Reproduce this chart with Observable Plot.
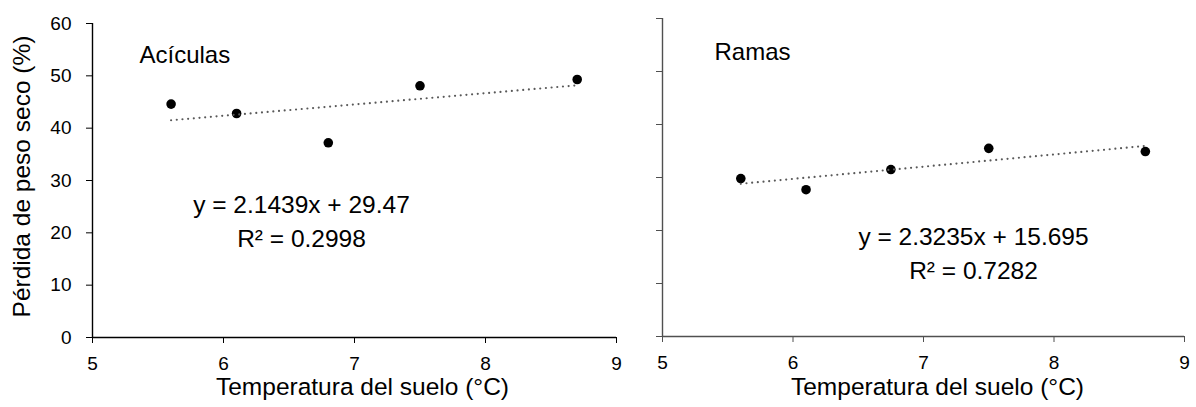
<!DOCTYPE html>
<html>
<head>
<meta charset="utf-8">
<script src="https://cdn.jsdelivr.net/npm/d3@7"></script>
<script src="https://cdn.jsdelivr.net/npm/@observablehq/plot@0.6"></script>
<style>
  body { margin: 0; background: #fff; }
  #wrap { position: relative; width: 1196px; height: 407px; overflow: hidden; background: #fff; }
  .panel { position: absolute; top: 0; }
  g[aria-label="x-axis tick label"], g[aria-label="y-axis tick label"] { font-size: 19px !important; }
</style>
</head>
<body>
<div id="wrap">
  <div id="left" class="panel" style="left:0px"></div>
  <div id="right" class="panel" style="left:640px"></div>
</div>
<script>
// ---- data ----
const xTicks = [5, 6, 7, 8, 9];
const yTicks = [0, 10, 20, 30, 40, 50, 60];

const leftTitle = "Acículas";
const leftTemp = [5.6, 6.1, 6.8, 7.5, 8.7];
const leftLoss = [44.6, 42.8, 37.2, 48.1, 49.3];
const leftEq = ["y = 2.1439x + 29.47", "R² = 0.2998"];

const rightTitle = "Ramas";
const rightTemp = [5.6, 6.1, 6.75, 7.5, 8.7];
const rightLoss = [29.8, 27.7, 31.5, 35.5, 34.9];
const rightEq = ["y = 2.3235x + 15.695", "R² = 0.7282"];

const xLabel = "Temperatura del suelo (°C)";
const yLabel = "Pérdida de peso seco (%)";

const FONT = "'Liberation Sans', Arial, Helvetica, sans-serif";

function panel(opts) {
  const data = opts.temp.map((t, i) => ({t, v: opts.loss[i]}));
  const axisColor = opts.axisColor;
  const marks = [
    Plot.ruleY([yTicks[0]], {stroke: axisColor, strokeWidth: 1.4}),
    Plot.ruleX([xTicks[0]], {stroke: axisColor, strokeWidth: 1.4}),
    Plot.axisX({ticks: xTicks, tickSize: 6, tickPadding: 13, fontSize: 19, stroke: axisColor, fill: "#000", label: null, tickFormat: d => String(d)}),
    Plot.axisY({ticks: yTicks, tickSize: 6, tickPadding: 15, fontSize: 19, stroke: axisColor, fill: "#000", label: null,
      tickFormat: opts.showY ? (d => String(d)) : (() => "")}),
    Plot.dot(data, {x: "t", y: "v", r: 4.8, fill: "#000", stroke: "none"}),
    Plot.linearRegressionY(data, {x: "t", y: "v", ci: 0, stroke: "#595959", strokeWidth: 2.2, strokeLinecap: "round", strokeDasharray: "0,5.7"}),
    Plot.text([opts.title], {frameAnchor: "top-left", textAnchor: "start", lineAnchor: "bottom", dx: opts.titleDx, dy: opts.titleDy, fontSize: 24, fill: "#000"}),
    Plot.text([opts.eq.join("\n")], {frameAnchor: "top-left", textAnchor: "middle", lineAnchor: "bottom", lineHeight: 1.36, dx: opts.eqDx, dy: opts.eqDy, fontSize: 24.5, fill: "#000"}),
    Plot.text([xLabel], {frameAnchor: "bottom", textAnchor: "middle", lineAnchor: "bottom", dx: opts.xlDx, dy: opts.xlDy, fontSize: 24.5, fill: "#000"})
  ];
  if (opts.showY) {
    marks.push(Plot.text([yLabel], {frameAnchor: "left", rotate: -90, textAnchor: "middle", lineAnchor: "top", dx: -80, dy: -4, fontSize: 24.5, fill: "#000"}));
  }
  return Plot.plot({
    width: opts.width,
    height: 407,
    marginLeft: opts.ml,
    marginRight: opts.mr,
    marginTop: opts.mt,
    marginBottom: opts.mb,
    x: {domain: [xTicks[0], xTicks[xTicks.length - 1]]},
    y: {domain: [yTicks[0], yTicks[yTicks.length - 1]]},
    style: {fontFamily: FONT, fontSize: "19px", color: "#000", background: "transparent", overflow: "visible"},
    marks
  });
}

document.getElementById("left").appendChild(panel({
  width: 640, ml: 92, mr: 24, mt: 23, mb: 70,
  temp: leftTemp, loss: leftLoss, eq: leftEq, title: leftTitle,
  titleDx: 47, titleDy: 39, eqDx: 209, eqDy: 223, xlDx: 8, xlDy: 57,
  axisColor: "#000", showY: true
}));

document.getElementById("right").appendChild(panel({
  width: 556, ml: 22, mr: 12, mt: 18, mb: 71,
  temp: rightTemp, loss: rightLoss, eq: rightEq, title: rightTitle,
  titleDx: 52, titleDy: 41, eqDx: 311, eqDy: 260, xlDx: 14, xlDy: 58,
  axisColor: "#505050", showY: false
}));
</script>
</body>
</html>
